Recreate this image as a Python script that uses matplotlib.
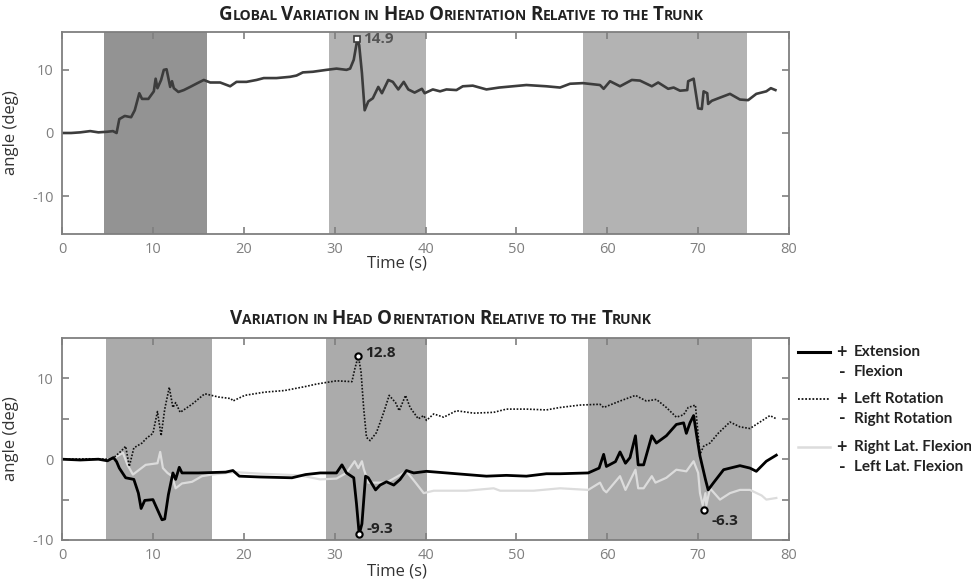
import matplotlib
matplotlib.use("Agg")
import matplotlib.pyplot as plt
from matplotlib.lines import Line2D
from matplotlib.offsetbox import TextArea, HPacker, AnnotationBbox

plt.rcParams['font.family'] = ['Open Sans', 'DejaVu Sans']

# global head orientation (top panel)
t_global = [0, 1, 2, 3.1, 4, 5, 5.6, 6.0, 6.3, 6.9,
            7.6, 8.0, 8.5, 8.8, 9.5, 10.1, 10.3, 10.5, 10.9, 11.2,
            11.5, 11.9, 12.1, 12.3, 12.8, 13.4, 14.1, 14.9, 15.6, 16.3,
            17.4, 18.5, 19.2, 20.3, 21.4, 22.2, 23.6, 25.1, 25.8, 26.5,
            27.6, 29.1, 30.2, 31.3, 31.7, 32.1, 32.5, 32.7, 33.0, 33.3,
            33.7, 34.2, 34.8, 35.2, 35.9, 36.4, 37.0, 37.6, 38.1, 38.8,
            39.6, 39.9, 40.8, 41.6, 42.3, 43.4, 44.1, 45.2, 46.7, 48.1,
            49.6, 51.1, 53.3, 54.8, 55.9, 57.3, 59.2, 59.6, 60.3, 61.4,
            62.7, 63.6, 64.9, 65.6, 66.7, 67.3, 68.0, 68.8, 68.9, 69.5,
            69.8, 70.0, 70.4, 70.6, 71.0, 71.1, 71.5, 72.4, 73.5, 74.6,
            75.5, 76.4, 77.5, 78.0, 78.5]
v_global = [0, 0, 0.1, 0.3, 0.1, 0.2, 0.3, 0.0, 2.2, 2.7,
            2.5, 3.6, 6.3, 5.4, 5.4, 6.6, 8.6, 7.1, 8.4, 10.0,
            10.1, 7.3, 8.2, 7.1, 6.5, 6.8, 7.3, 7.9, 8.4, 8.0,
            8.0, 7.4, 8.1, 8.1, 8.4, 8.7, 8.7, 8.9, 9.1, 9.6,
            9.7, 10.0, 10.2, 10.0, 10.2, 11.6, 14.9, 13.9, 9.5, 3.6,
            5.0, 5.5, 7.3, 6.3, 8.4, 8.1, 6.9, 8.1, 6.9, 6.4,
            7.0, 6.3, 6.9, 6.6, 6.9, 6.8, 7.4, 7.5, 6.9, 7.2,
            7.4, 7.6, 7.4, 7.2, 7.8, 7.9, 7.6, 7.0, 8.2, 7.4,
            8.4, 8.3, 7.4, 8.0, 7.0, 7.2, 6.7, 6.8, 8.2, 8.6,
            5.8, 3.9, 3.8, 6.6, 6.3, 4.6, 5.1, 5.6, 6.2, 5.3,
            5.2, 6.2, 6.6, 7.1, 6.8]

# extension / flexion
t_ext = [0, 2, 4, 5.0, 5.65, 6.0, 6.3, 7.0, 7.9, 8.4,
         8.7, 9.1, 10.0, 10.6, 11.0, 11.3, 11.7, 12.2, 12.5, 12.9,
         13.2, 15.0, 18.0, 18.8, 19.5, 21.7, 25.3, 26.8, 28.4, 30.2,
         30.8, 31.3, 32.1, 32.4, 32.7, 33.0, 33.4, 33.7, 34.5, 35.0,
         35.7, 36.5, 37.2, 37.9, 38.7, 40.1, 42.3, 44.5, 46.7, 48.9,
         51.1, 53.3, 54.8, 57.9, 59.1, 59.6, 59.9, 60.9, 61.4, 62.0,
         62.5, 63.1, 63.4, 64.0, 64.9, 65.4, 66.5, 67.6, 68.4, 68.7,
         69.1, 69.5, 69.8, 70.2, 70.8, 71.1, 71.7, 72.8, 74.6, 75.7,
         76.4, 77.5, 78.6]
v_ext = [0, -0.1, 0, -0.2, 0.2, -0.3, -1.1, -2.3, -2.5, -4.2,
         -6.1, -5.1, -5.0, -6.5, -7.5, -7.4, -4.4, -1.7, -2.5, -1.0,
         -1.7, -1.7, -1.6, -1.4, -2.1, -2.2, -2.3, -1.9, -1.7, -1.7,
         -0.7, -1.7, -2.3, -5.5, -9.3, -8.0, -2.1, -2.3, -3.8, -3.2,
         -2.8, -3.2, -2.5, -1.4, -1.7, -1.5, -1.7, -1.9, -2.1, -2.0,
         -2.1, -1.8, -1.8, -1.7, -1.1, 0.6, -0.9, -0.3, 0.9, -0.5,
         0.2, 2.9, -0.7, -0.7, 2.9, 2.0, 2.9, 4.3, 4.5, 3.2,
         4.5, 5.4, 3.2, 0.4, -2.5, -3.8, -2.9, -1.3, -0.8, -1.1,
         -1.5, -0.25, 0.5]

# left / right rotation
t_rot = [0, 3, 5.5, 6.5, 7.0, 7.4, 7.9, 8.8, 9.3, 10.0,
         10.5, 10.9, 11.3, 11.8, 12.2, 12.5, 13.0, 14.3, 15.7, 17.2,
         18.6, 18.8, 20.1, 22.3, 24.5, 26.8, 28.0, 30.2, 31.9, 32.2,
         32.6, 32.9, 33.2, 33.5, 33.9, 34.6, 35.4, 36.0, 36.7, 37.1,
         37.8, 38.3, 39.2, 39.8, 40.1, 40.9, 42.0, 43.4, 45.3, 47.5,
         48.9, 51.1, 53.3, 54.8, 57.0, 59.2, 59.6, 61.4, 63.1, 64.3,
         65.4, 66.5, 67.6, 68.4, 68.9, 69.7, 69.8, 70.2, 70.6, 71.3,
         72.2, 73.5, 74.6, 75.7, 76.8, 77.9, 78.6]
v_rot = [0, 0.05, 0, 1.0, 1.6, -0.9, 1.4, 2.0, 2.6, 3.2,
         5.9, 2.9, 6.2, 8.9, 6.4, 7.0, 5.8, 6.8, 8.1, 7.7,
         7.5, 7.2, 7.9, 8.3, 8.5, 9.0, 9.3, 9.7, 9.6, 11.1,
         12.8, 10.8, 6.2, 2.7, 2.3, 3.3, 5.8, 7.9, 7.0, 6.0,
         7.9, 6.4, 5.0, 5.4, 4.8, 5.6, 5.2, 6.0, 5.7, 5.8,
         6.2, 6.2, 6.1, 6.4, 6.7, 6.8, 6.4, 7.2, 7.9, 7.2,
         7.4, 6.4, 5.2, 5.5, 6.4, 6.7, 5.4, 0.6, 1.6, 2.0,
         3.2, 4.6, 4.0, 3.8, 4.6, 5.4, 5.0]

# right / left lateral flexion
t_lat = [0, 3, 5.5, 6.7, 7.2, 7.8, 8.5, 9.2, 10.5, 10.8,
         11.1, 11.6, 12.1, 12.5, 13.2, 14.3, 15.4, 16.5, 19.0, 22.0,
         26.2, 28.4, 30.2, 31.3, 32.2, 32.6, 33.0, 33.2, 33.7, 34.5,
         35.7, 37.9, 38.9, 39.8, 40.9, 44.5, 47.5, 48.2, 51.9, 54.8,
         57.9, 59.2, 59.6, 59.9, 61.4, 62.0, 63.1, 63.4, 64.0, 64.9,
         65.3, 66.5, 67.6, 68.7, 69.5, 70.0, 70.2, 70.5, 70.8, 70.9,
         71.3, 72.4, 73.5, 74.6, 75.7, 77.0, 77.5, 78.6]
v_lat = [0, 0, 0, 0.8, -0.7, -1.9, -1.3, -0.7, -0.5, 0.9,
         -1.1, -1.7, -2.1, -3.6, -3.0, -2.8, -2.1, -1.9, -1.6, -1.8,
         -2.0, -2.5, -2.4, -1.7, -0.25, -1.1, -0.25, -1.2, -2.9, -2.9,
         -2.9, -1.5, -2.9, -4.2, -3.9, -3.9, -3.6, -3.9, -3.9, -3.6,
         -3.8, -2.9, -3.8, -4.1, -2.1, -3.8, -1.3, -3.6, -3.6, -2.1,
         -2.9, -2.3, -1.3, -1.5, -0.25, -1.7, -4.2, -5.7, -4.2, -5.7,
         -3.6, -5.0, -4.2, -3.8, -3.8, -4.5, -5.0, -4.8]

# shaded task intervals (s)
spans_top = [(4.6, 16.0), (29.4, 40.1), (57.3, 75.4)]
spans_bottom = [(4.85, 16.5), (29.1, 40.2), (57.9, 75.9)]

# labelled extremes
peak_global = (32.5, 14.9)
peak_rot = (32.6, 12.8)
min_ext = (32.7, -9.3)
min_lat = (70.6, -6.3)

GRAY = '#7f7f7f'


def style_axes(ax, ylim, yticks):
    ax.set_xlim(0, 80)
    ax.set_ylim(*ylim)
    ax.set_xticks(range(0, 81, 10))
    ax.set_yticks(yticks)
    ax.set_yticklabels([str(v) if v % 10 == 0 else '' for v in yticks])
    ax.tick_params(direction='in', length=5, width=1.2, color=GRAY,
                   labelcolor=GRAY, labelsize=10.5, top=True, right=True, pad=6)
    for s in ax.spines.values():
        s.set_color(GRAY)
        s.set_linewidth(1.3)
    ax.set_xlabel('Time (s)', fontsize=12, color='#333333')
    ax.set_ylabel('angle (deg)', fontsize=12, color='#333333')
    ax.yaxis.set_label_coords(-0.059, 0.5)


def smallcaps_title(fig, text, x, y, big=13.5, small=10):
    parts = []
    words = text.split(' ')
    for i, w in enumerate(words):
        if w[0].isupper():
            parts.append(TextArea(w[0], textprops=dict(fontsize=big, fontweight='bold', color='#222222')))
            parts.append(TextArea(w[1:].upper(), textprops=dict(fontsize=small, fontweight='bold', color='#222222')))
        else:
            parts.append(TextArea(w.upper(), textprops=dict(fontsize=small, fontweight='bold', color='#222222')))
        if i < len(words) - 1:
            parts.append(TextArea(' ', textprops=dict(fontsize=small, fontweight='bold')))
    box = HPacker(children=parts, align='baseline', pad=0, sep=0)
    ab = AnnotationBbox(box, (x, y), xycoords='figure fraction', frameon=False,
                        box_alignment=(0.5, 0.5))
    fig.add_artist(ab)


fig = plt.figure(figsize=(9.71, 5.86), dpi=100)
ax1 = fig.add_axes([0.0639, 0.6007, 0.7487, 0.3447])
ax2 = fig.add_axes([0.0639, 0.0785, 0.7487, 0.3447])

# top panel
for i, (a, b) in enumerate(spans_top):
    ax1.axvspan(a, b, color='#939393' if i == 0 else '#b3b3b3', lw=0)
ax1.plot(t_global, v_global, color='#3c3c3c', lw=1.9)
ax1.plot(*peak_global, marker='s', ms=4.5, mfc='white', mec='#3c3c3c', mew=1.2)
ax1.text(peak_global[0] + 0.6, peak_global[1], str(peak_global[1]), fontsize=11,
         fontweight='bold', color='#555555', va='center')
style_axes(ax1, (-16, 16), [-10, 0, 10])
ax1.xaxis.set_label_coords(0.461, -0.105)

# bottom panel
for a, b in spans_bottom:
    ax2.axvspan(a, b, color='#ababab', lw=0)
ax2.plot(t_lat, v_lat, color='#dcdcdc', lw=1.6)
ax2.plot(t_rot, v_rot, color='#111111', lw=1.2, ls=(0, (1, 1)))
ax2.plot(t_ext, v_ext, color='black', lw=2.0)
for p in (peak_rot, min_ext, min_lat):
    ax2.plot(*p, marker='o', ms=4.5, mfc='white', mec='black', mew=1.5)
ax2.text(peak_rot[0] + 0.7, peak_rot[1] + 0.4, str(peak_rot[1]), fontsize=11,
         fontweight='bold', color='#222222', va='center')
ax2.text(min_ext[0] + 0.8, min_ext[1] + 0.6, str(min_ext[1]), fontsize=11,
         fontweight='bold', color='#222222', va='center')
ax2.text(min_lat[0] + 0.9, min_lat[1] - 1.4, str(min_lat[1]), fontsize=11,
         fontweight='bold', color='#222222', va='center')
style_axes(ax2, (-10, 15), [-10, -5, 0, 5, 10])
ax2.xaxis.set_label_coords(0.461, -0.115)

smallcaps_title(fig, 'Global Variation in Head Orientation Relative to the Trunk', 0.475, 0.975)
smallcaps_title(fig, 'Variation in Head Orientation Relative to the Trunk', 0.454, 0.456)

# legend drawn by hand at the right
legend_items = [
    ('Extension', 'Flexion', dict(color='black', lw=2.2, ls='-')),
    ('Left Rotation', 'Right Rotation', dict(color='#111111', lw=1.3, ls=(0, (1, 1)))),
    ('Right Lat. Flexion', 'Left Lat. Flexion', dict(color='#dcdcdc', lw=1.8, ls='-')),
]
legend_y = [0.399, 0.319, 0.237]
lfont = ['Lato', 'DejaVu Sans']
for (pos, neg, style), y in zip(legend_items, legend_y):
    fig.add_artist(Line2D([0.822, 0.855], [y, y], transform=fig.transFigure, **style))
    fig.text(0.861, y, '+', fontsize=13, fontweight='bold', va='center', color='#222222', family=lfont)
    fig.text(0.879, y, pos, fontsize=11, fontweight='bold', va='center', color='#222222', family=lfont)
    fig.text(0.864, y - 0.034, '-', fontsize=13, fontweight='bold', va='center', color='#222222', family=lfont)
    fig.text(0.879, y - 0.034, neg, fontsize=11, fontweight='bold', va='center', color='#222222', family=lfont)

fig.savefig('out.png', dpi=100)
